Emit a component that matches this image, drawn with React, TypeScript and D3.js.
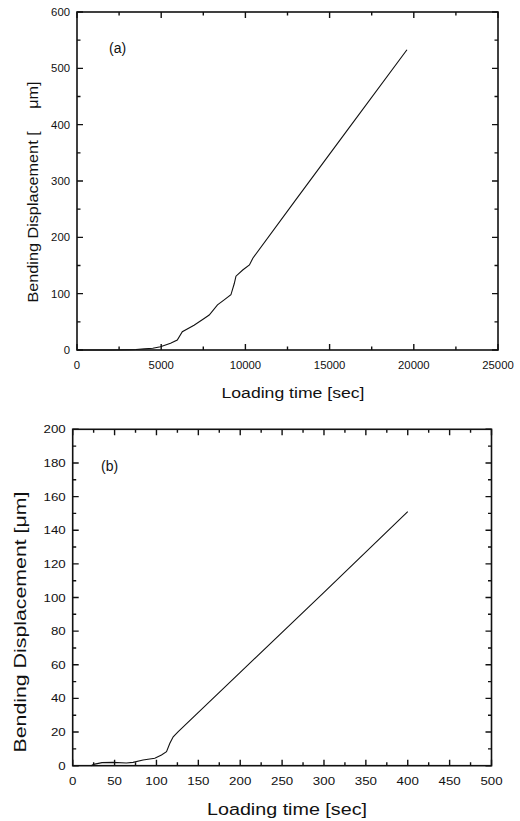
import React from "react";
import * as d3 from "d3";

// Panel (a)
const timeA = [0, 1000, 2000, 3000, 3500, 4000, 4500, 4958, 5556, 5955, 6254, 6950, 7550, 7850, 8343, 8740, 9140, 9340, 9440, 9840, 10240, 10440, 13000, 16000, 19594];
const dispA = [0, 0, 0, 0.5, 1, 2, 3, 5.9, 11.9, 17.8, 32.5, 44, 56, 62, 80, 89, 98, 118, 131, 142, 151, 163, 267, 388, 533];
const xTicksA = [0, 5000, 10000, 15000, 20000, 25000];
const yTicksA = [0, 100, 200, 300, 400, 500, 600];

// Panel (b)
const timeB = [22, 25, 35, 48, 64, 72, 84, 98, 106, 112, 116, 120, 126, 200, 300, 400];
const dispB = [0, 0.8, 1.8, 2, 1.6, 2, 3.4, 4.4, 6.4, 8.3, 13.3, 17.2, 20.2, 55.5, 103, 151];
const xTicksB = [0, 50, 100, 150, 200, 250, 300, 350, 400, 450, 500];
const yTicksB = [0, 20, 40, 60, 80, 100, 120, 140, 160, 180, 200];

const FONT = "'Liberation Sans', Arial, Helvetica, sans-serif";
const INK = "#111";

type PanelProps = {
  box: { l: number; r: number; t: number; b: number };
  xDomain: [number, number];
  yDomain: [number, number];
  xTicks: number[];
  yTicks: number[];
  xMinorStep: number;
  yMinorStep: number;
  xs: number[];
  ys: number[];
  tag: string;
  tagPos: [number, number];
  xTitle: string;
  xTitlePos: [number, number];
  xTitleLen: number;
  xTitleSize: number;
  yTitle: string;
  yTitlePos: [number, number];
  yTitleLen: number;
  yTitleSize: number;
  tickSize: number;
  tickLabelLenPerChar: number;
};

function Panel(p: PanelProps) {
  const sx = d3.scaleLinear().domain(p.xDomain).range([p.box.l, p.box.r]);
  const sy = d3.scaleLinear().domain(p.yDomain).range([p.box.b, p.box.t]);
  const pathGen = d3
    .line<number>()
    .x((_, i) => sx(p.xs[i]))
    .y((d) => sy(d));
  const xMinor = d3.range(p.xDomain[0], p.xDomain[1] + 1e-9, p.xMinorStep);
  const yMinor = d3.range(p.yDomain[0], p.yDomain[1] + 1e-9, p.yMinorStep);
  const isMajorX = (v: number) => p.xTicks.some((t) => Math.abs(t - v) < 1e-6);
  const isMajorY = (v: number) => p.yTicks.some((t) => Math.abs(t - v) < 1e-6);
  const majLen = 6;
  const minLen = 3.5;
  let tickD = "";
  xMinor.forEach((v) => {
    const L = isMajorX(v) ? majLen : minLen;
    const X = sx(v);
    tickD += `M${X},${p.box.b}V${p.box.b - L}M${X},${p.box.t}V${p.box.t + L}`;
  });
  yMinor.forEach((v) => {
    const L = isMajorY(v) ? majLen : minLen;
    const Y = sy(v);
    tickD += `M${p.box.l},${Y}H${p.box.l + L}M${p.box.r},${Y}H${p.box.r - L}`;
  });
  return (
    <g>
      <rect
        x={p.box.l}
        y={p.box.t}
        width={p.box.r - p.box.l}
        height={p.box.b - p.box.t}
        fill="none"
        stroke={INK}
        strokeWidth={1.6}
      />
      <path d={tickD} fill="none" stroke={INK} strokeWidth={1.4} />
      {p.xTicks.map((v) => (
        <text
          key={"xl" + v}
          x={sx(v)}
          y={p.box.b + 19}
          textAnchor="middle"
          fontSize={p.tickSize}
          fontFamily={FONT}
          fill={INK}
          textLength={String(v).length * p.tickLabelLenPerChar}
          lengthAdjust="spacingAndGlyphs"
        >
          {v}
        </text>
      ))}
      {p.yTicks.map((v) => (
        <text
          key={"ylab" + v}
          x={p.box.l - 7}
          y={sy(v) + 4}
          textAnchor="end"
          fontSize={p.tickSize}
          fontFamily={FONT}
          fill={INK}
          textLength={String(v).length * p.tickLabelLenPerChar}
          lengthAdjust="spacingAndGlyphs"
        >
          {v}
        </text>
      ))}
      <path d={pathGen(p.ys) || ""} fill="none" stroke={INK} strokeWidth={1.1} />
      <text x={p.tagPos[0]} y={p.tagPos[1]} fontSize={14} fontFamily={FONT} fill={INK}>
        {p.tag}
      </text>
      <text
        x={p.xTitlePos[0]}
        y={p.xTitlePos[1]}
        textAnchor="middle"
        fontSize={p.xTitleSize}
        fontFamily={FONT}
        fill={INK}
        textLength={p.xTitleLen}
        lengthAdjust="spacingAndGlyphs"
      >
        {p.xTitle}
      </text>
      <text
        transform={`translate(${p.yTitlePos[0]},${p.yTitlePos[1]}) rotate(-90)`}
        textAnchor="middle"
        fontSize={p.yTitleSize}
        fontFamily={FONT}
        fill={INK}
        textLength={p.yTitleLen}
        lengthAdjust="spacingAndGlyphs"
        style={{ whiteSpace: "pre" }}
      >
        {p.yTitle}
      </text>
    </g>
  );
}

export default function App() {
  return (
    <svg
      width={520}
      height={821}
      viewBox="0 0 520 821"
      style={{ position: "absolute", left: 0, top: 0, background: "#fff" }}
    >
      <rect x={0} y={0} width={520} height={821} fill="#fff" />
      <Panel
        box={{ l: 77, r: 498, t: 12, b: 350 }}
        xDomain={[0, 25000]}
        yDomain={[0, 600]}
        xTicks={xTicksA}
        yTicks={yTicksA}
        xMinorStep={2500}
        yMinorStep={50}
        xs={timeA}
        ys={dispA}
        tag="(a)"
        tagPos={[109, 53]}
        xTitle="Loading time [sec]"
        xTitlePos={[293, 398]}
        xTitleLen={143}
        xTitleSize={14}
        yTitle={"Bending Displacement [     μm]"}
        yTitlePos={[38, 192]}
        yTitleLen={221}
        yTitleSize={15}
        tickSize={11}
        tickLabelLenPerChar={6.3}
      />
      <Panel
        box={{ l: 72.7, r: 491.5, t: 429.3, b: 765.7 }}
        xDomain={[0, 500]}
        yDomain={[0, 200]}
        xTicks={xTicksB}
        yTicks={yTicksB}
        xMinorStep={25}
        yMinorStep={10}
        xs={timeB}
        ys={dispB}
        tag="(b)"
        tagPos={[101, 471]}
        xTitle="Loading time [sec]"
        xTitlePos={[287, 815]}
        xTitleLen={160}
        xTitleSize={16}
        yTitle={"Bending Displacement [μm]"}
        yTitlePos={[26, 622]}
        yTitleLen={261}
        yTitleSize={16}
        tickSize={11}
        tickLabelLenPerChar={7.4}
      />
    </svg>
  );
}
